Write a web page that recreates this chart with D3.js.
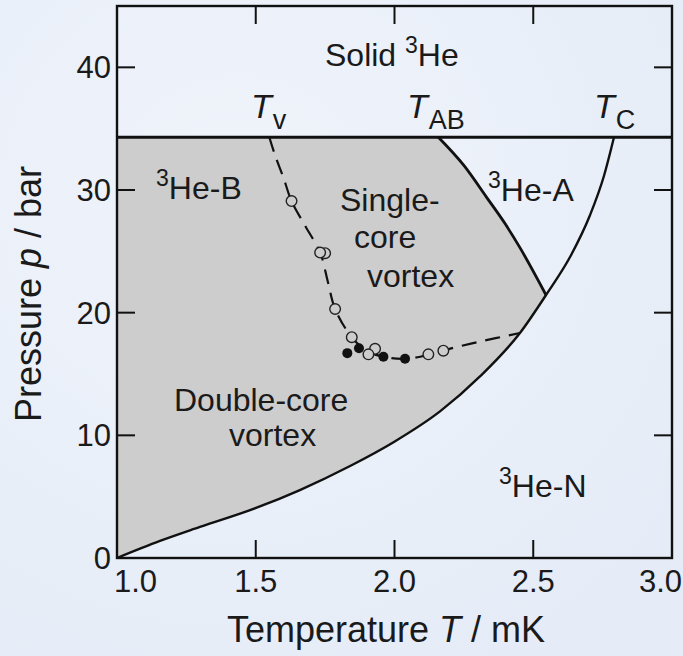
<!DOCTYPE html>
<html>
<head>
<meta charset="utf-8">
<script src="https://cdn.jsdelivr.net/npm/d3@7"></script>
<style>
  html, body { margin: 0; padding: 0; background: #e8eef8; }
  svg { display: block; }
  text { font-family: "Liberation Sans", Arial, sans-serif; fill: #1a1a1a; }
</style>
</head>
<body>
<svg id="chart" width="683" height="656"></svg>
<script>
// Axis ticks
const xTicks = [1.0, 1.5, 2.0, 2.5, 3.0];
const yTicks = [0, 10, 20, 30, 40];

// Melting pressure of 3He (bar)
const meltingP = 34.3;

// Superfluid transition Tc(p): lower part up to the polycritical point, then upper part
const tcLower = [[1.0, 0], [1.155, 1.39], [1.299, 2.53], [1.501, 4.08], [1.659, 5.54],
                 [1.840, 7.50], [1.998, 9.46], [2.164, 11.95], [2.308, 14.8], [2.452, 18.34],
                 [2.546, 21.44]];
const tcUpper = [[2.546, 21.44], [2.636, 24.68], [2.704, 27.92], [2.755, 31.16], [2.791, 34.3]];

// A-B transition line
const abLine = [[2.158, 34.3], [2.250, 32.0], [2.332, 29.4], [2.400, 27.2], [2.452, 25.3],
                [2.546, 21.44]];

// Vortex core transition (dashed guide)
const vortexLine = [[1.549, 34.3], [1.57, 32.8], [1.60, 31.0], [1.629, 29.1], [1.68, 27.0],
                    [1.732, 24.9], [1.76, 22.5], [1.786, 20.3], [1.846, 18.0], [1.90, 16.9],
                    [1.96, 16.4], [2.04, 16.24], [2.12, 16.55], [2.18, 16.95], [2.30, 17.6],
                    [2.452, 18.34]];

// Measured transitions
const openPts = [[1.629, 29.1], [1.750, 24.85], [1.732, 24.9], [1.786, 20.3], [1.846, 18.0],
                 [1.930, 17.05], [1.906, 16.6], [2.122, 16.6], [2.176, 16.9]];
const filledPts = [[1.830, 16.7], [1.872, 17.1], [1.960, 16.4], [2.038, 16.24]];

const svg = d3.select("#chart");

// soft backdrop
const defs = svg.append("defs");
const grad = defs.append("radialGradient").attr("id", "bg").attr("cx", "35%").attr("cy", "30%").attr("r", "80%");
grad.append("stop").attr("offset", "0%").attr("stop-color", "#f0f4fb");
grad.append("stop").attr("offset", "100%").attr("stop-color", "#e5ecf7");
svg.append("rect").attr("width", 683).attr("height", 656).attr("fill", "url(#bg)");

const x = d3.scaleLinear().domain([1.0, 3.0]).range([117, 672]);
const y = d3.scaleLinear().domain([0, 45]).range([558, 6]);

const line = d3.line().x(d => x(d[0])).y(d => y(d[1])).curve(d3.curveMonotoneX);
const dashLine = d3.line().x(d => x(d[0])).y(d => y(d[1])).curve(d3.curveCatmullRom.alpha(0.5));

// Shaded B-phase region
const fillPath = line(tcLower) + line(abLine.slice().reverse()).replace(/^M/, "L") +
  `L${x(1.0)},${y(meltingP)}Z`;
svg.append("path").attr("d", fillPath).attr("fill", "#cdcdcd").attr("stroke", "none");

// Phase boundaries
svg.append("path").attr("d", line(tcLower.concat(tcUpper.slice(1))))
  .attr("fill", "none").attr("stroke", "#111").attr("stroke-width", 2.4);
svg.append("path").attr("d", line(abLine))
  .attr("fill", "none").attr("stroke", "#111").attr("stroke-width", 2.8);
svg.append("line").attr("x1", x(1.0)).attr("x2", x(3.0))
  .attr("y1", y(meltingP)).attr("y2", y(meltingP))
  .attr("stroke", "#111").attr("stroke-width", 3);

// Dashed vortex line
svg.append("path").attr("d", dashLine(vortexLine))
  .attr("fill", "none").attr("stroke", "#111").attr("stroke-width", 2.2)
  .attr("stroke-dasharray", "15,9");

// Data points
svg.selectAll("circle.open").data(openPts).join("circle").attr("class", "open")
  .attr("cx", d => x(d[0])).attr("cy", d => y(d[1])).attr("r", 5.3)
  .attr("fill", "#cdcdcd").attr("stroke", "#222").attr("stroke-width", 1.4);
svg.selectAll("circle.filled").data(filledPts).join("circle").attr("class", "filled")
  .attr("cx", d => x(d[0])).attr("cy", d => y(d[1])).attr("r", 5)
  .attr("fill", "#111");

// Frame with inward ticks on all sides
const tickLen = 18;
svg.append("rect").attr("x", 117).attr("y", 6).attr("width", 555).attr("height", 552)
  .attr("fill", "none").attr("stroke", "#111").attr("stroke-width", 2.4);
const g = svg.append("g").attr("stroke", "#111").attr("stroke-width", 2);
xTicks.slice(1, -1).forEach(t => {
  g.append("line").attr("x1", x(t)).attr("x2", x(t)).attr("y1", 558).attr("y2", 558 - tickLen);
  g.append("line").attr("x1", x(t)).attr("x2", x(t)).attr("y1", 6).attr("y2", 6 + tickLen);
});
yTicks.slice(1).forEach(t => {
  g.append("line").attr("x1", 117).attr("x2", 117 + tickLen).attr("y1", y(t)).attr("y2", y(t));
  g.append("line").attr("x1", 672).attr("x2", 672 - tickLen).attr("y1", y(t)).attr("y2", y(t));
});

// Tick labels
svg.selectAll("text.xt").data(xTicks).join("text").attr("class", "xt")
  .attr("x", (d, i) => i === 0 ? 114 : i === xTicks.length - 1 ? 682 : x(d))
  .attr("y", 592)
  .attr("text-anchor", (d, i) => i === 0 ? "start" : i === xTicks.length - 1 ? "end" : "middle")
  .attr("font-size", 31).text(d => d.toFixed(1));
svg.selectAll("text.yt").data(yTicks).join("text").attr("class", "yt")
  .attr("x", 111).attr("y", d => y(d) + 11).attr("text-anchor", "end")
  .attr("font-size", 31).text(d => d);

// Axis titles
const xt = svg.append("text").attr("x", 386).attr("y", 642).attr("text-anchor", "middle").attr("font-size", 36);
xt.append("tspan").text("Temperature ");
xt.append("tspan").attr("font-style", "italic").text("T");
xt.append("tspan").text(" / mK");
const yt = svg.append("text").attr("transform", "translate(41,294) rotate(-90)")
  .attr("text-anchor", "middle").attr("font-size", 36);
yt.append("tspan").text("Pressure ");
yt.append("tspan").attr("font-style", "italic").text("p");
yt.append("tspan").text(" / bar");

// Region labels
function iso(xp, yp, pre, rest, size) {
  const t = svg.append("text").attr("x", xp).attr("y", yp).attr("font-size", size);
  if (pre) t.append("tspan").text(pre);
  t.append("tspan").attr("font-size", size * 0.72).attr("dy", -size * 0.42).text("3");
  t.append("tspan").attr("dy", size * 0.42).text(rest);
}
iso(325, 66, "Solid ", "He", 32);
iso(156, 199, null, "He-B", 32);
iso(488, 201, null, "He-A", 32);
iso(499, 497, null, "He-N", 32);

function label(xp, yp, s, size) {
  svg.append("text").attr("x", xp).attr("y", yp).attr("font-size", size).text(s);
}
label(340, 211, "Single-", 32);
label(354, 248, "core", 32);
label(367, 287, "vortex", 32);
label(174, 411, "Double-core", 32);
label(229, 446, "vortex", 32);

// Transition temperature markers
function tsub(xp, yp, sub) {
  const t = svg.append("text").attr("x", xp).attr("y", yp).attr("font-size", 34);
  t.append("tspan").attr("font-style", "italic").text("T");
  t.append("tspan").attr("font-size", 27).attr("dy", 11).attr("dx", 1).text(sub);
}
tsub(251, 118, "v");
tsub(407, 118, "AB");
tsub(594, 118, "C");
</script>
</body>
</html>
